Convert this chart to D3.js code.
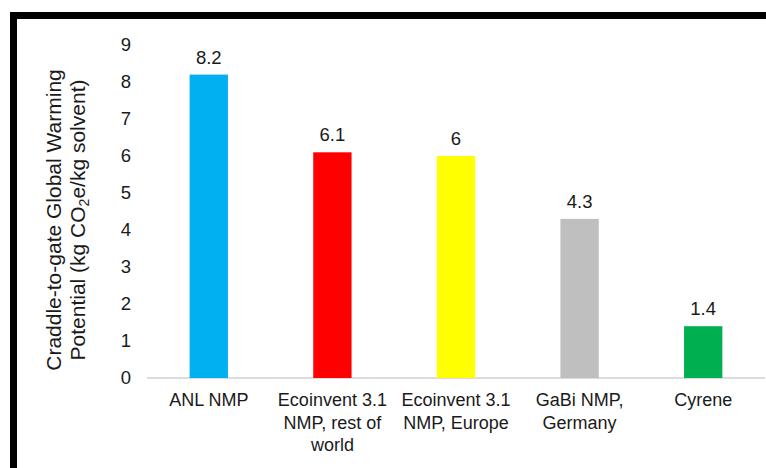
<!DOCTYPE html>
<html>
<head>
    <script src="https://cdn.jsdelivr.net/npm/d3@7"></script>
    <style>
        body { margin: 0; background: #fff; overflow: hidden; }
        svg { display: block; font-family: "Liberation Sans", Arial, sans-serif; }
    </style>
</head>
<body>
    <svg width="766" height="468"></svg>
    <script>
        // values
        const categories = ["ANL NMP", "Ecoinvent 3.1 NMP, rest of world", "Ecoinvent 3.1 NMP, Europe", "GaBi NMP, Germany", "Cyrene"];
        const labelLines = [
            ["ANL NMP"],
            ["Ecoinvent 3.1", "NMP, rest of", "world"],
            ["Ecoinvent 3.1", "NMP, Europe"],
            ["GaBi NMP,", "Germany"],
            ["Cyrene"]
        ];
        const values = [8.2, 6.1, 6, 4.3, 1.4];
        const valueLabels = ["8.2", "6.1", "6", "4.3", "1.4"];
        const barColors = ["#00B0F0", "#FF0000", "#FFFF00", "#BFBFBF", "#00B050"];
        const yTicks = [0, 1, 2, 3, 4, 5, 6, 7, 8, 9];

        const data = categories.map((c, i) => ({
            name: c, value: values[i], label: valueLabels[i], lines: labelLines[i], color: barColors[i]
        }));

        const svg = d3.select("svg");

        // frame (only top and left edges fall inside the picture)
        svg.append("rect")
            .attr("x", 13.5).attr("y", 15.5)
            .attr("width", 2000).attr("height", 2000)
            .attr("fill", "none")
            .attr("stroke", "#000")
            .attr("stroke-width", 7);

        const x = d3.scaleBand()
            .domain(categories)
            .range([147, 765])
            .paddingInner(0.69)
            .paddingOuter(0.345);

        const y = d3.scaleLinear().domain([0, 9]).range([378, 45]);

        // y axis labels only
        const yAxis = svg.append("g")
            .attr("transform", "translate(131,0)")
            .call(d3.axisLeft(y).tickValues(yTicks).tickSize(0).tickPadding(0).tickFormat(d3.format("d")));
        yAxis.select(".domain").remove();
        yAxis.selectAll("text")
            .attr("font-size", 18.5)
            .attr("font-family", "Liberation Sans, Arial, sans-serif")
            .attr("fill", "#1a1a1a");

        // baseline
        svg.append("line")
            .attr("x1", x.range()[0]).attr("x2", x.range()[1])
            .attr("y1", y(0)).attr("y2", y(0))
            .attr("stroke", "#d0d0d0")
            .attr("stroke-width", 1.5);

        svg.selectAll(".bar")
            .data(data)
            .enter().append("rect")
            .attr("class", "bar")
            .attr("x", d => x(d.name))
            .attr("y", d => y(d.value))
            .attr("width", x.bandwidth())
            .attr("height", d => y(0) - y(d.value))
            .attr("fill", d => d.color);

        svg.selectAll(".val")
            .data(data)
            .enter().append("text")
            .attr("class", "val")
            .attr("x", d => x(d.name) + x.bandwidth() / 2)
            .attr("y", d => y(d.value) - 11)
            .attr("text-anchor", "middle")
            .attr("font-size", 18.5)
            .attr("fill", "#1a1a1a")
            .text(d => d.label);

        // category labels
        const cat = svg.selectAll(".cat")
            .data(data)
            .enter().append("text")
            .attr("class", "cat")
            .attr("text-anchor", "middle")
            .attr("font-size", 18)
            .attr("fill", "#1a1a1a")
            .attr("transform", d => `translate(${x(d.name) + x.bandwidth() / 2},406)`);
        cat.selectAll("tspan")
            .data(d => d.lines)
            .enter().append("tspan")
            .attr("x", 0)
            .attr("y", (d, i) => i * 22.5)
            .text(d => d);

        // y axis title
        const title = svg.append("text")
            .attr("transform", "translate(0,220) rotate(-90)")
            .attr("text-anchor", "middle")
            .attr("font-size", 21)
            .attr("fill", "#1a1a1a");
        title.append("tspan").attr("x", 0).attr("y", 61).text("Craddle-to-gate Global Warming");
        const t2 = title.append("tspan").attr("x", 0).attr("y", 85);
        t2.append("tspan").text("Potential (kg CO");
        t2.append("tspan").attr("font-size", 14).attr("dy", 4).text("2");
        t2.append("tspan").attr("dy", -4).text("e/kg solvent)");
    </script>
</body>
</html>
